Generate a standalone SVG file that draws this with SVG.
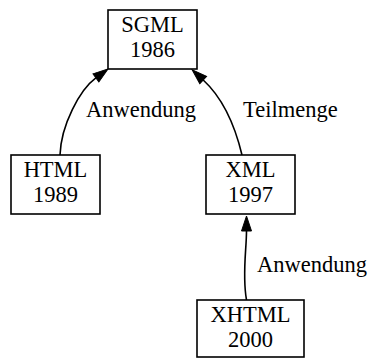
<svg xmlns="http://www.w3.org/2000/svg" width="369" height="358" viewBox="0 0 369 358">
<defs>
<style>
.node rect{fill:#fff;stroke:#000;stroke-width:1.6}
.t{font-family:'Liberation Serif','DejaVu Serif',serif;font-size:22.5px;fill:#000}
.node text{text-anchor:middle}
.edge{fill:none;stroke:#000;stroke-width:1.6}
</style>
<marker id="arr" markerUnits="userSpaceOnUse" markerWidth="16" markerHeight="11" refX="0" refY="5" orient="auto" viewBox="0 0 16 10" overflow="visible">
<path d="M0,0 L15,5 L0,10 z" fill="#000" stroke="#000" stroke-width="1"/>
</marker>
</defs>
<rect width="369" height="358" fill="#fff"/>
<g class="t" font-family="Liberation Serif, serif" font-size="22.5">
<g id="connectors">
<path class="edge" d="M60,155 C61,125 79.9,89.6 95.9,77.9" marker-end="url(#arr)"/>
<path class="edge" d="M242,155 C236,130 225,100 203.2,80" marker-end="url(#arr)"/>
<path class="edge" d="M246.5,300 C242,275 246.5,250 246.5,231" marker-end="url(#arr)"/>
<text x="86" y="117">Anwendung</text>
<text x="243" y="117">Teilmenge</text>
<text x="257" y="272">Anwendung</text>
</g>
<g id="SGML" class="node">
<rect x="108" y="10" width="89" height="59"/>
<text x="152.5" y="32">SGML</text>
<text x="152.5" y="57">1986</text>
</g>
<g id="HTML" class="node">
<rect x="11" y="155" width="89" height="59"/>
<text x="55.5" y="177">HTML</text>
<text x="55.5" y="202">1989</text>
</g>
<g id="XML" class="node">
<rect x="206" y="155" width="89" height="59"/>
<text x="250.5" y="177">XML</text>
<text x="250.5" y="202">1997</text>
</g>
<g id="XHTML" class="node">
<rect x="197" y="300" width="107" height="57"/>
<text x="250.5" y="322">XHTML</text>
<text x="250.5" y="347">2000</text>
</g>
</g>
</svg>
